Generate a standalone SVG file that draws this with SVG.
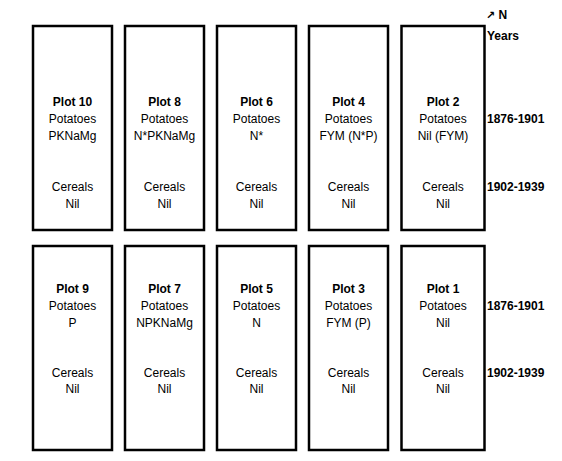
<svg xmlns="http://www.w3.org/2000/svg" width="562" height="461" viewBox="0 0 562 461">
<style>
.box{fill:#fff;stroke:#000;stroke-width:2.5}
text{font-family:"Liberation Sans","DejaVu Sans",sans-serif;font-size:12px;fill:#000}
.c{text-anchor:middle}
.b{font-weight:bold}
.ar{font-family:"DejaVu Sans",sans-serif;font-size:11px}
</style>
<rect width="562" height="461" fill="#fff"/>
<g id="legend">
<text class="b" x="486" y="19"><tspan class="ar">↗</tspan> N</text>
<text class="b" x="487" y="40">Years</text>
<text class="b" x="487" y="123">1876-1901</text>
<text class="b" x="487" y="191">1902-1939</text>
<text class="b" x="487" y="310">1876-1901</text>
<text class="b" x="487" y="377">1902-1939</text>
</g>
<g id="plot10"><rect class="box" x="33" y="26" width="79" height="204"/>
<text class="c b" x="72.5" y="106">Plot 10</text><text class="c" x="72.5" y="123">Potatoes</text><text class="c" x="72.5" y="140">PKNaMg</text><text class="c" x="72.5" y="191">Cereals</text><text class="c" x="72.5" y="208">Nil</text></g>
<g id="plot8"><rect class="box" x="125" y="26" width="79" height="204"/>
<text class="c b" x="164.5" y="106">Plot 8</text><text class="c" x="164.5" y="123">Potatoes</text><text class="c" x="164.5" y="140">N*PKNaMg</text><text class="c" x="164.5" y="191">Cereals</text><text class="c" x="164.5" y="208">Nil</text></g>
<g id="plot6"><rect class="box" x="217" y="26" width="79" height="204"/>
<text class="c b" x="256.5" y="106">Plot 6</text><text class="c" x="256.5" y="123">Potatoes</text><text class="c" x="256.5" y="140">N*</text><text class="c" x="256.5" y="191">Cereals</text><text class="c" x="256.5" y="208">Nil</text></g>
<g id="plot4"><rect class="box" x="309" y="26" width="79" height="204"/>
<text class="c b" x="348.5" y="106">Plot 4</text><text class="c" x="348.5" y="123">Potatoes</text><text class="c" x="348.5" y="140">FYM (N*P)</text><text class="c" x="348.5" y="191">Cereals</text><text class="c" x="348.5" y="208">Nil</text></g>
<g id="plot2"><rect class="box" x="401.5" y="26" width="83" height="204"/>
<text class="c b" x="443" y="106">Plot 2</text><text class="c" x="443" y="123">Potatoes</text><text class="c" x="443" y="140">Nil (FYM)</text><text class="c" x="443" y="191">Cereals</text><text class="c" x="443" y="208">Nil</text></g>
<g id="plot9"><rect class="box" x="33" y="246" width="79" height="204"/>
<text class="c b" x="72.5" y="293">Plot 9</text><text class="c" x="72.5" y="310">Potatoes</text><text class="c" x="72.5" y="327">P</text><text class="c" x="72.5" y="377">Cereals</text><text class="c" x="72.5" y="393">Nil</text></g>
<g id="plot7"><rect class="box" x="125" y="246" width="79" height="204"/>
<text class="c b" x="164.5" y="293">Plot 7</text><text class="c" x="164.5" y="310">Potatoes</text><text class="c" x="164.5" y="327">NPKNaMg</text><text class="c" x="164.5" y="377">Cereals</text><text class="c" x="164.5" y="393">Nil</text></g>
<g id="plot5"><rect class="box" x="217" y="246" width="79" height="204"/>
<text class="c b" x="256.5" y="293">Plot 5</text><text class="c" x="256.5" y="310">Potatoes</text><text class="c" x="256.5" y="327">N</text><text class="c" x="256.5" y="377">Cereals</text><text class="c" x="256.5" y="393">Nil</text></g>
<g id="plot3"><rect class="box" x="309" y="246" width="79" height="204"/>
<text class="c b" x="348.5" y="293">Plot 3</text><text class="c" x="348.5" y="310">Potatoes</text><text class="c" x="348.5" y="327">FYM (P)</text><text class="c" x="348.5" y="377">Cereals</text><text class="c" x="348.5" y="393">Nil</text></g>
<g id="plot1"><rect class="box" x="401.5" y="246" width="83" height="204"/>
<text class="c b" x="443" y="293">Plot 1</text><text class="c" x="443" y="310">Potatoes</text><text class="c" x="443" y="327">Nil</text><text class="c" x="443" y="377">Cereals</text><text class="c" x="443" y="393">Nil</text></g>
<g id="connectors"/>
</svg>
